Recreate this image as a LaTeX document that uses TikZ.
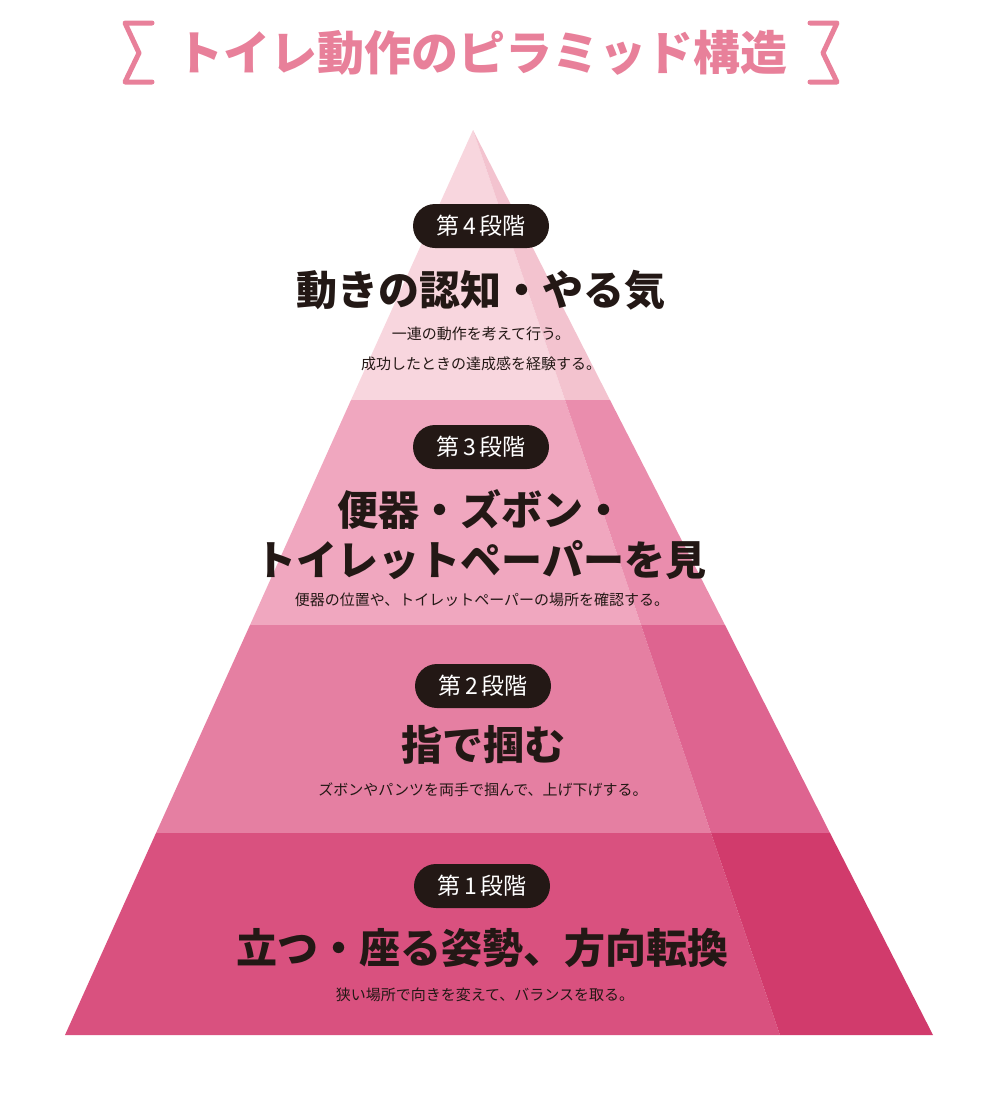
\documentclass[tikz,border=0pt]{standalone}
\usepackage{fontspec}
\newfontfamily\jp{Noto Sans CJK JP}
\usepackage{tikz}
\usetikzlibrary{calc}

\definecolor{titlepink}{HTML}{E8809A}
\definecolor{inkblack}{HTML}{231815}
\definecolor{fourfront}{HTML}{F8D6DE}
\definecolor{fourside}{HTML}{F3C3CF}
\definecolor{threefront}{HTML}{F0A7BF}
\definecolor{threeside}{HTML}{EA8DAD}
\definecolor{twofront}{HTML}{E57FA2}
\definecolor{twoside}{HTML}{DE6490}
\definecolor{onefront}{HTML}{D9517F}
\definecolor{oneside}{HTML}{D13B6C}

\begin{document}
\begin{tikzpicture}[x=1pt, y=-1pt]

    \useasboundingbox (0, 0) rectangle (994, 1109);

    \tikzstyle{badge}=[fill=inkblack, text=white, rounded corners=22pt, minimum width=136pt, minimum height=44pt, inner sep=0pt, font=\jp\fontsize{23}{23}\selectfont];
    \tikzstyle{heading}=[text=inkblack, align=center, font=\jp\bfseries\fontsize{41}{50}\selectfont];
    \tikzstyle{note}=[text=inkblack, align=center, font=\jp\fontsize{15}{30}\selectfont];
    \tikzstyle{brace}=[titlepink, line width=5pt, line cap=round, line join=round];

    % pyramid corners
    \coordinate (top) at (473, 130);
    \coordinate (l3) at (351, 400);
    \coordinate (s3) at (565, 400);
    \coordinate (r3) at (610, 400);
    \coordinate (l2) at (250, 625);
    \coordinate (s2) at (641, 625);
    \coordinate (r2) at (725, 625);
    \coordinate (l1) at (156, 833);
    \coordinate (s1) at (711, 833);
    \coordinate (r1) at (830, 833);
    \coordinate (l0) at (65, 1035);
    \coordinate (s0) at (780, 1035);
    \coordinate (r0) at (933, 1035);

    \fill[fourfront] (top) -- (s3) -- (l3) -- cycle;
    \fill[fourside] (top) -- (r3) -- (s3) -- cycle;

    \fill[threefront] (l3) -- (s3) -- (s2) -- (l2) -- cycle;
    \fill[threeside] (s3) -- (r3) -- (r2) -- (s2) -- cycle;

    \fill[twofront] (l2) -- (s2) -- (s1) -- (l1) -- cycle;
    \fill[twoside] (s2) -- (r2) -- (r1) -- (s1) -- cycle;

    \fill[onefront] (l1) -- (s1) -- (s0) -- (l0) -- cycle;
    \fill[oneside] (s1) -- (r1) -- (r0) -- (s0) -- cycle;

    % title
    \node[text=titlepink, font=\jp\bfseries\fontsize{47}{47}\selectfont] (title) at (482, 53) {トイレ動作のピラミッド構造};
    \draw[brace] (152, 23) -- (125, 23) -- (139, 53) -- (125, 82) -- (152, 82);
    \draw[brace] (810, 23) -- (837, 23) -- (823, 53) -- (837, 82) -- (810, 82);

    % stage 4
    \node[badge] (b4) at (481, 226) {第\,4\,段階};
    \node[heading] (h4) at ($(b4)+(0, 64)$) {動きの認知・やる気};
    \node[note] (n4) at ($(h4)+(0, 59)$) {一連の動作を考えて行う。\\成功したときの達成感を経験する。};

    % stage 3
    \node[badge] (b3) at (481, 447) {第\,3\,段階};
    \node[heading] (h3) at ($(b3)+(0, 88)$) {便器・ズボン・\\トイレットペーパーを見};
    \node[note] (n3) at ($(h3)+(1, 65)$) {便器の位置や、トイレットペーパーの場所を確認する。};

    % stage 2
    \node[badge] (b2) at (483, 686) {第\,2\,段階};
    \node[heading] (h2) at ($(b2)+(0, 59)$) {指で掴む};
    \node[note] (n2) at ($(h2)+(0, 45)$) {ズボンやパンツを両手で掴んで、上げ下げする。};

    % stage 1
    \node[badge] (b1) at (482, 886) {第\,1\,段階};
    \node[heading] (h1) at ($(b1)+(0, 62)$) {立つ・座る姿勢、方向転換};
    \node[note] (n1) at ($(h1)+(3, 47)$) {狭い場所で向きを変えて、バランスを取る。};

\end{tikzpicture}
\end{document}
